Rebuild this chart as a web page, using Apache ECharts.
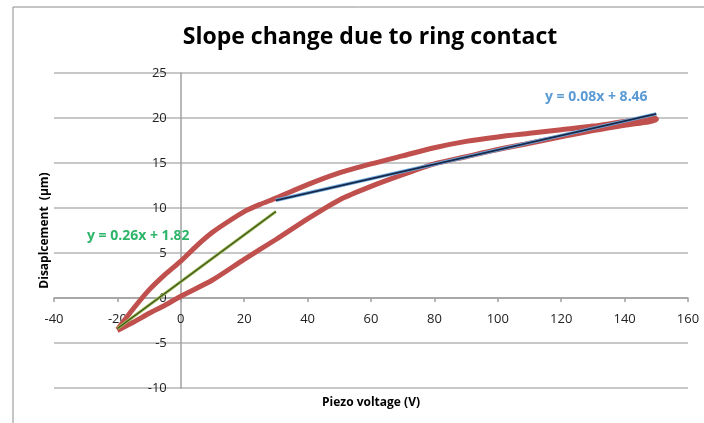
<!DOCTYPE html>
<html>
<head>
<meta charset="utf-8">
<script src="https://cdn.jsdelivr.net/npm/echarts@6/dist/echarts.min.js"></script>
<style>
  html, body { margin: 0; padding: 0; background: #fff; }
  #chart { width: 704px; height: 423px; }
</style>
</head>
<body>
<div id="chart"></div>
<script>
// hysteresis loop, outgoing branch (lower) then returning branch (upper)
const lowerX = [-20, -15, -10, -5, 0, 10, 20, 30, 40, 50, 60, 70, 80, 90, 100, 110, 120, 130, 140, 150]
const lowerY = [-3.6, -2.7, -1.7, -0.8, 0.2, 2.0, 4.3, 6.5, 8.8, 10.9, 12.4, 13.7, 14.9, 15.7, 16.5, 17.2, 17.9, 18.6, 19.2, 19.8]
const upperX = [150, 140, 130, 120, 110, 100, 90, 80, 70, 60, 50, 40, 30, 25, 20, 15, 10, 5, 0, -5, -10, -15, -20]
const upperY = [20.0, 19.6, 19.1, 18.7, 18.3, 17.9, 17.4, 16.7, 15.8, 14.9, 13.9, 12.6, 11.1, 10.4, 9.6, 8.5, 7.3, 5.8, 4.1, 2.6, 0.9, -1.2, -3.5]

// linear fits (end points)
const fitLowX = [-20, 30]
const fitLowY = [-3.38, 9.62]
const fitHighX = [30, 150]
const fitHighY = [10.86, 20.46]

const xTicks = { min: -40, max: 160, interval: 20 }
const yTicks = { min: -10, max: 25, interval: 5 }

const pairs = (xs, ys) => xs.map((x, i) => [x, ys[i]])
const loop = pairs(lowerX, lowerY).concat(pairs(upperX, upperY))
const fitLow = pairs(fitLowX, fitLowY)
const fitHigh = pairs(fitHighX, fitHighY)

const font = '"Open Sans", "Liberation Sans", sans-serif'
const grid = { left: 54, right: 16, top: 73, bottom: 35 }
// the axes cross at zero, so shift each one inward to the other's zero
const plotW = 704 - grid.left - grid.right
const plotH = 423 - grid.top - grid.bottom
const yAxisShift = plotW * (0 - xTicks.min) / (xTicks.max - xTicks.min)
const xAxisShift = plotH * (0 - yTicks.min) / (yTicks.max - yTicks.min)

const chart = echarts.init(document.getElementById('chart'))

const option = {
    animation: false,
    textStyle: { fontFamily: font },
    title: {
        text: 'Slope change due to ring contact',
        left: 365,
        top: 21,
        textAlign: 'center',
        textStyle: { fontFamily: font, fontSize: 23, fontWeight: 'bold', color: '#000' }
    },
    grid: Object.assign({ containLabel: false, outerBoundsMode: 'none' }, grid),
    xAxis: {
        type: 'value',
        min: xTicks.min,
        max: xTicks.max,
        interval: xTicks.interval,
        offset: -xAxisShift,
        name: 'Piezo voltage (V)',
        nameLocation: 'middle',
        nameGap: 99,
        nameTextStyle: { fontFamily: font, fontSize: 12, fontWeight: 'bold', color: '#000' },
        axisLine: { onZero: false, lineStyle: { color: '#A0A0A0', width: 1.5 } },
        axisTick: { show: true, length: 4, lineStyle: { color: '#A0A0A0', width: 1.5 } },
        axisLabel: { fontSize: 13, color: '#222', margin: 15 },
        splitLine: { show: false }
    },
    yAxis: {
        type: 'value',
        min: yTicks.min,
        max: yTicks.max,
        interval: yTicks.interval,
        offset: -yAxisShift,
        name: 'Disaplcement  (µm)',
        nameLocation: 'middle',
        nameGap: 130,
        nameTextStyle: { fontFamily: font, fontSize: 12, fontWeight: 'bold', color: '#000' },
        axisLine: { onZero: false, lineStyle: { color: '#A0A0A0', width: 1.5 } },
        axisTick: { show: false },
        axisLabel: { fontSize: 13, color: '#222', margin: 14 },
        splitLine: { show: true, lineStyle: { color: '#B4B4B4', width: 1.5 } }
    },
    series: [
        {
            type: 'line',
            data: loop,
            smooth: 0.25,
            symbol: 'none',
            lineStyle: { color: '#C0504D', width: 5 }
        },
        {
            type: 'line',
            data: fitLow,
            symbol: 'none',
            lineStyle: { color: '#9BBB59', width: 3 }
        },
        {
            type: 'line',
            data: fitLow,
            symbol: 'none',
            lineStyle: { color: '#3F5217', width: 1.2 }
        },
        {
            type: 'line',
            data: fitHigh,
            symbol: 'none',
            lineStyle: { color: '#6FA8DC', width: 3.5 }
        },
        {
            type: 'line',
            data: fitHigh,
            symbol: 'none',
            lineStyle: { color: '#17294A', width: 1.8 }
        }
    ],
    graphic: [
        { type: 'line', shape: { x1: 13, y1: 7, x2: 704, y2: 7 }, style: { stroke: '#8C8C8C', lineWidth: 1 } },
        { type: 'line', shape: { x1: 13, y1: 7, x2: 13, y2: 423 }, style: { stroke: '#8C8C8C', lineWidth: 1 } },
        {
            type: 'text', left: 87, top: 229,
            style: { text: 'y = 0.26x + 1.82', font: 'bold 14px ' + font, fill: '#2DB56A' }
        },
        {
            type: 'text', left: 545, top: 90,
            style: { text: 'y = 0.08x + 8.46', font: 'bold 14px ' + font, fill: '#5B9BD5' }
        }
    ]
}
chart.setOption(option)
</script>
</body>
</html>
